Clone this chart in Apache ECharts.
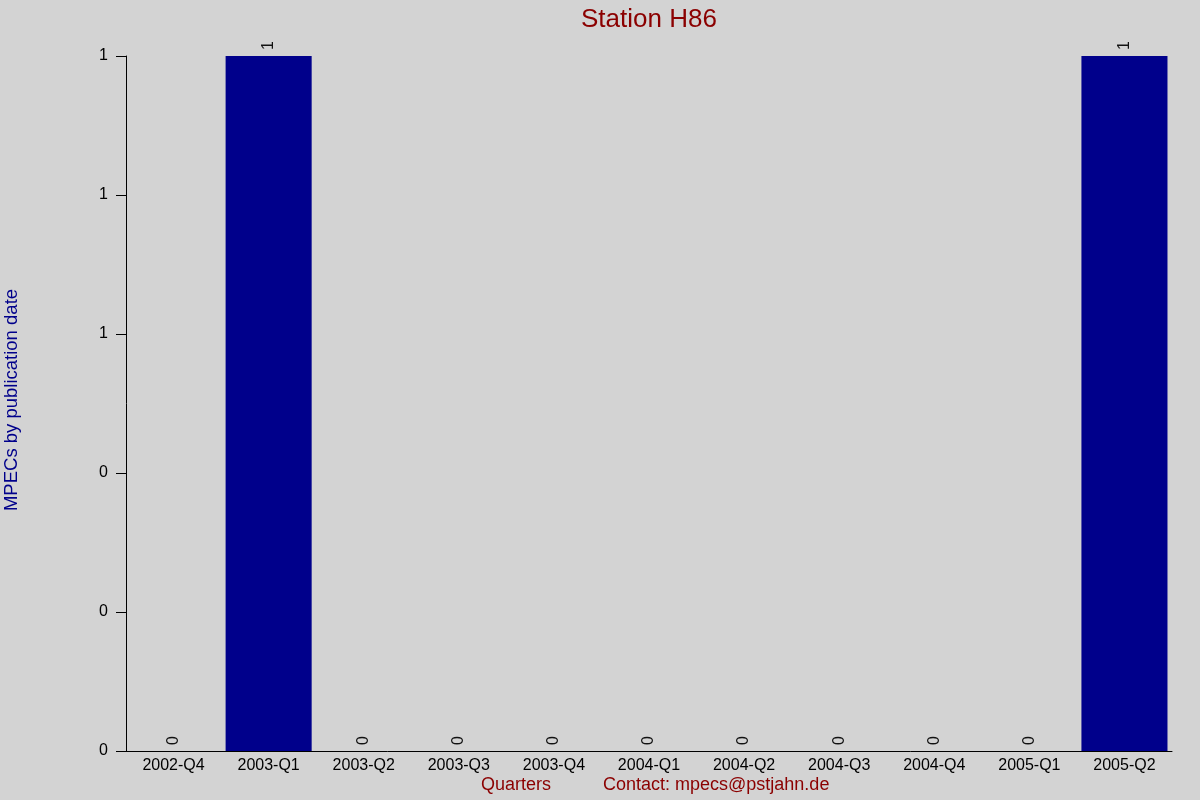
<!DOCTYPE html>
<html><head><meta charset="utf-8">
<script src="https://cdn.jsdelivr.net/npm/echarts@6/dist/echarts.min.js"></script>
<style>html,body{margin:0;padding:0;background:#d3d3d3}#c{width:1200px;height:800px}</style>
</head><body><div id="c"></div>
<script>
const categories = ['2002-Q4','2003-Q1','2003-Q2','2003-Q3','2003-Q4','2004-Q1','2004-Q2','2004-Q3','2004-Q4','2005-Q1','2005-Q2'];
const mpecs = [0,1,0,0,0,0,0,0,0,0,1];
const titleText = 'Station H86';
const yAxisName = 'MPECs by publication date';
const xAxisName = 'Quarters';
const contactText = 'Contact: mpecs@pstjahn.de';

const chart = echarts.init(document.getElementById('c'));
chart.setOption({
  backgroundColor: '#d3d3d3',
  animation: false,
  textStyle: { fontFamily: 'Liberation Sans, Arial, sans-serif' },
  title: { text: titleText, left: 576, top: 2, textStyle: { color: '#8b0000', fontSize: 26, fontWeight: 'normal', fontFamily: 'Liberation Sans' } },
  grid: { left: 126, right: 28, top: 56, bottom: 49 },
  xAxis: {
    type: 'category', data: categories,
    axisLine: { lineStyle: { color: '#000', width: 1 } },
    axisTick: { show: false },
    axisLabel: { color: '#000', fontSize: 16, margin: 7, fontFamily: 'Liberation Sans' }
  },
  yAxis: {
    type: 'value', min: 0, max: 1, interval: 0.2,
    axisLine: { show: true, lineStyle: { color: '#000', width: 1 } },
    axisTick: { show: true, length: 10, lineStyle: { color: '#000' } },
    splitLine: { show: false },
    axisLabel: { color: '#000', fontSize: 16, margin: 18, fontFamily: 'Liberation Sans', formatter: v => String(Math.round(v)) }
  },
  series: [{
    type: 'bar', data: mpecs, barCategoryGap: '9.5%',
    itemStyle: { color: '#00008b' },
    label: { show: true, position: 'top', rotate: 90, align: 'left', verticalAlign: 'middle', distance: 6, color: '#111', fontSize: 16, fontFamily: 'Liberation Sans' }
  }],
  graphic: [
    { type: 'text', left: 2, top: 'middle', rotation: Math.PI / 2, style: { text: yAxisName, fill: '#00008b', font: '18.5px Liberation Sans' } },
    { type: 'text', left: 481, top: 776, style: { text: xAxisName, fill: '#8b0000', font: '18px Liberation Sans' } },
    { type: 'text', left: 603, top: 776, style: { text: contactText, fill: '#8b0000', font: '18px Liberation Sans' } }
  ]
});
</script></body></html>
